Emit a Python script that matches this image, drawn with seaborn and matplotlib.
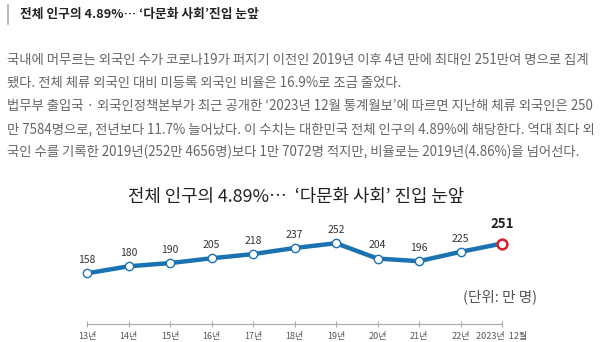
import matplotlib
matplotlib.use("Agg")
import matplotlib.pyplot as plt
import seaborn as sns
import pandas as pd

# ---- data ----
years = ["13년", "14년", "15년", "16년", "17년", "18년", "19년", "20년", "21년", "22년", "2023년  12월"]
values = [158, 180, 190, 205, 218, 237, 252, 204, 196, 225, 251]

header = "전체 인구의 4.89%… ‘다문화 사회’진입 눈앞"
body_lines = [
    "국내에 머무르는 외국인 수가 코로나19가 퍼지기 이전인 2019년 이후 4년 만에 최대인 251만여 명으로 집계",
    "됐다. 전체 체류 외국인 대비 미등록 외국인 비율은 16.9%로 조금 줄었다.",
    "법무부 출입국 · 외국인정책본부가 최근 공개한 ‘2023년 12월 통계월보’에 따르면 지난해 체류 외국인은 250",
    "만 7584명으로, 전년보다 11.7% 늘어났다. 이 수치는 대한민국 전체 인구의 4.89%에 해당한다. 역대 최다 외",
    "국인 수를 기록한 2019년(252만 4656명)보다 1만 7072명 적지만, 비율로는 2019년(4.86%)을 넘어선다.",
]
chart_title = "전체 인구의 4.89%…  ‘다문화 사회’ 진입 눈앞"
unit_label = "(단위: 만 명)"

sns.set_theme(style="white")
plt.rcParams["font.family"] = ["Noto Sans CJK KR", "DejaVu Sans"]

W, H = 600, 342
fig = plt.figure(figsize=(6, 3.42), dpi=100)
fig.patch.set_facecolor("white")
renderer = fig.canvas.get_renderer()

def fx(x):
    return x / W

def fy(y):
    return 1 - y / H

def fit_text(x, y, s, target_w, size=10, **kw):
    t = fig.text(fx(x), fy(y), s, fontsize=size, **kw)
    w = t.get_window_extent(renderer).width
    t.set_fontsize(size * target_w / w)
    return t

# header bar + title
fig.add_artist(plt.Line2D([fx(7.5), fx(7.5)], [fy(5), fy(24)], color="#bbbbbb", lw=1.5))
fit_text(20, 14.5, header, 238, va="center", ha="left", color="#222222", fontweight="bold")

# body text
t0 = fit_text(7, 60, body_lines[0], 582, va="center", ha="left", color="#666666")
bsize = t0.get_fontsize()
for i, line in enumerate(body_lines[1:], start=1):
    fig.text(fx(7), fy(60 + 23.1 * i), line, fontsize=bsize, va="center", ha="left", color="#666666")

# chart title
fit_text(128, 197, chart_title, 337, va="center", ha="left", color="#222222")

# ---- chart ----
ax = fig.add_axes([fx(87), 18 / H, (502 - 87) / W, 109 / H])
df = pd.DataFrame({"pos": list(range(len(values))), "value": values})
sns.lineplot(data=df, x="pos", y="value", ax=ax, color="#1a73b0", linewidth=3.2,
             marker="o", markersize=6, markerfacecolor="white",
             markeredgecolor="#1a73b0", markeredgewidth=1.0, clip_on=False, zorder=3)
last = df.iloc[[-1]]
ax.plot(last["pos"], last["value"], "o", ms=7, mfc="white", mec="#d3202f", mew=1.8,
        clip_on=False, zorder=4)

for i, v in enumerate(values):
    if i == len(values) - 1:
        ax.annotate(str(v), (i, v), xytext=(0, 9), textcoords="offset points",
                    ha="center", va="bottom", fontsize=9.5, fontweight="bold", color="#222222")
    else:
        ax.annotate(str(v), (i, v), xytext=(0, 6), textcoords="offset points",
                    ha="center", va="bottom", fontsize=7.5, color="#333333")

ax.set_xlim(0, len(values) - 1)
ax.set_ylim(0, 340)
ax.set_xticks(range(len(years)))
ax.set_xticklabels(years)
ax.set_yticks([])
ax.set_xlabel("")
ax.set_ylabel("")
for s in ["top", "left", "right"]:
    ax.spines[s].set_visible(False)
ax.spines["bottom"].set_color("#aaaaaa")
ax.spines["bottom"].set_linewidth(0.8)
ax.tick_params(axis="x", direction="inout", length=4, width=0.8, color="#aaaaaa",
               labelsize=6.5, labelcolor="#555555", pad=3.5, bottom=True)
ax.patch.set_alpha(0)

fig.text(fx(463), fy(297), unit_label, fontsize=10.5, va="center", ha="left", color="#555555")

fig.savefig("out.png", dpi=100, facecolor="white")
